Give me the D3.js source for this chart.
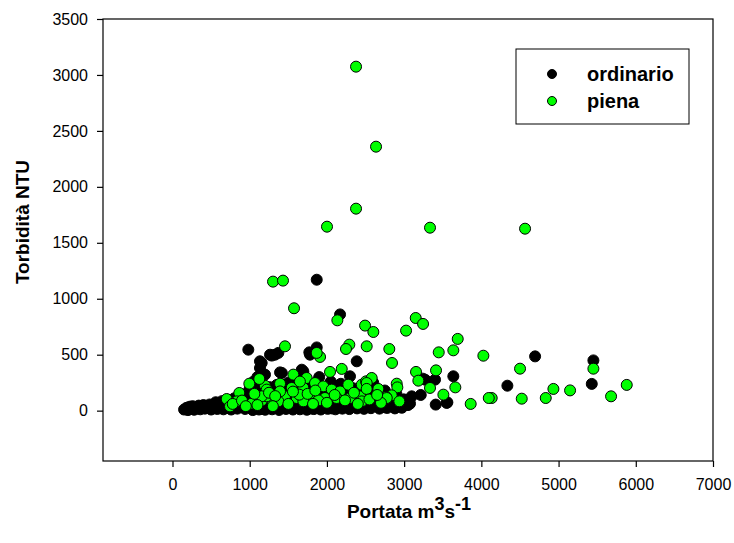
<!DOCTYPE html>
<html><head><meta charset="utf-8">
<script src="https://cdn.jsdelivr.net/npm/d3@7"></script>
<style>body{margin:0;background:#fff;} svg{display:block;}</style>
</head><body>
<script>
// ordinario (black)
const ordX = [150,180,200,220,240,260,280,300,320,340,360,380,400,420,440,460,480,500,520,540,560,580,600,620,640,660,680,700,720,740,760,780,800,820,840,860,880,900,920,940,960,980,1000,
1020,1050,1080,1100,1130,1160,1190,1220,1250,1280,1310,1340,1370,1400,1430,1460,1490,1520,1550,1580,1610,1640,1670,1700,1730,1760,1790,1820,1850,1880,1910,1940,1970,2000,
2030,2060,2100,2140,2180,2220,2260,2300,2340,2380,2420,2460,2500,2540,2580,2620,2660,2700,2750,2800,2850,2900,2950,3000,3050,
982,1133,1155,1263,1328,1371,1285,1868,2170,1868,1781,1772,2386,2299,1416,1393,1674,1695,1133,1198,3637,3400,3240,3271,3215,3098,2990,2796,3076,3409,3551,3560,4337,4696,5451,5430,
1500,1600,1750,1900,2050,2250,2450,2600,2750,2900,1050,1000,950,1100,
1040,1120,1200,1290,1380,1470,1560,1650,1740,1830,1920,2010,2110,2200,2290,2390,2480,2570,2680,2780,2880,2970,
560,640,720,800,880,960,1010,1090,1170,1260,1350,1440,1530,1620,1710];
const ordY = [10,25,5,35,15,40,8,30,20,45,12,35,50,18,40,25,55,10,38,22,60,15,45,30,55,12,40,25,65,35,10,50,28,70,18,45,60,30,80,15,50,35,90,
20,60,110,40,150,15,80,130,30,70,170,45,100,20,140,60,90,25,180,50,120,30,80,160,40,100,20,130,60,200,35,90,150,45,
110,20,170,60,240,30,120,80,200,40,140,70,30,110,60,160,40,90,30,60,120,40,70,100,50,
545,441,426,500,500,516,492,1170,860,565,500,521,441,307,337,342,366,351,381,322,307,277,286,277,140,128,98,63,63,54,69,74,223,485,449,239,
250,280,230,300,260,220,200,250,180,150,260,200,150,300,
5,10,8,12,6,15,10,12,8,14,10,16,12,18,14,20,16,22,18,24,20,26,
75,85,95,110,120,140,160,180,200,210,230,190,220,240,260];
// piena (green)
const pienaX = [2377,2636,2377,2001,3335,4566,1302,1431,1574,2135,2494,2601,3150,3245,3025,3694,2808,2843,3448,3637,4026,4501,5451,5883,5680,5149,4933,4834,4523,4134,4096,3862,3663,3508,3413,3154,3184,3335,2904,2912,2839,2766,2938,
1457,1911,1868,2290,2247,2515,2192,2040,1565,1738,1393,1198,1544,1695,1846,1953,2062,2170,2277,2451,2507,2429,2299,2127,1975,1781,1609,1457,1285,1155,1371,1695,1889,2234,2451,1220,1393,1642,
995,1124,1220,865,702,832,745,1026,1155,2580,2515,2515,2666,2775,
780,900,950,1060,1100,1250,1330,1500,1560,1750,1820,2000,2100,2350,2400,2550,2700,1650,1300,1850,2650];
const pienaY = [3074,2359,1805,1644,1635,1626,1153,1162,915,807,760,703,828,775,715,641,551,426,521,539,491,375,375,230,128,181,194,113,107,113,113,60,208,143,360,346,268,203,241,208,137,122,83,
575,480,516,590,551,575,373,346,322,292,241,223,203,203,247,217,188,172,232,232,262,128,113,113,113,98,113,128,98,89,83,83,92,92,83,128,172,143,
241,283,188,158,104,83,38,63,128,292,247,194,194,113,
60,90,40,150,50,160,130,60,170,150,60,70,140,160,60,100,70,260,40,180,140];

const xTicks = [0,1000,2000,3000,4000,5000,6000,7000];
const yTicks = [0,500,1000,1500,2000,2500,3000,3500];
const seriesNames = ["ordinario","piena"];
const seriesColors = ["#000000","#00ff00"];

const W = 734, H = 543;
const L = 103, R = 713, T = 19, B = 461;
const FONT = "Arial, 'Liberation Sans', sans-serif";
const svg = d3.select("body").append("svg").attr("width", W).attr("height", H)
  .style("font-family", FONT);

const x = d3.scaleLinear().domain([-900, 7000]).range([L, R]);
const y = d3.scaleLinear().domain([-450, 3500]).range([B, T]);

svg.append("rect").attr("x", L).attr("y", T).attr("width", R - L).attr("height", B - T)
  .attr("fill", "none").attr("stroke", "#000").attr("stroke-width", 1.2);

const xAxis = svg.append("g").attr("transform", `translate(0,${B})`)
  .call(d3.axisBottom(x).tickValues(xTicks).tickSize(6).tickPadding(12).tickFormat(d3.format("d")));
const yAxis = svg.append("g").attr("transform", `translate(${L},0)`)
  .call(d3.axisLeft(y).tickValues(yTicks).tickSize(6).tickPadding(9).tickFormat(d3.format("d")));
[xAxis, yAxis].forEach(g => {
  g.select(".domain").remove();
  g.selectAll("line").attr("stroke", "#000").attr("stroke-width", 1.2);
  g.selectAll("text").attr("font-size", 16).attr("fill", "#000").style("font-family", FONT);
});

const plot = svg.append("g");
const ord = ordX.map((v, i) => [v, ordY[i]]);
const pie = pienaX.map((v, i) => [v, pienaY[i]]);
plot.selectAll("circle.o").data(ord).enter().append("circle").attr("class", "o")
  .attr("cx", d => x(d[0])).attr("cy", d => y(d[1])).attr("r", 5.5)
  .attr("fill", seriesColors[0]).attr("stroke", "#000").attr("stroke-width", 1);
plot.selectAll("circle.p").data(pie).enter().append("circle").attr("class", "p")
  .attr("cx", d => x(d[0])).attr("cy", d => y(d[1])).attr("r", 5.5)
  .attr("fill", seriesColors[1]).attr("stroke", "#000").attr("stroke-width", 1);

// legend
const lg = svg.append("g");
lg.append("rect").attr("x", 516).attr("y", 49).attr("width", 173).attr("height", 75)
  .attr("fill", "#fff").attr("stroke", "#000").attr("stroke-width", 1);
seriesNames.forEach((n, i) => {
  const cy = 74 + i * 27;
  lg.append("circle").attr("cx", 552).attr("cy", cy).attr("r", 4.5)
    .attr("fill", seriesColors[i]).attr("stroke", "#000").attr("stroke-width", 1);
  lg.append("text").attr("x", 587).attr("y", cy + 7).attr("font-size", 20).attr("font-weight", "bold").text(n);
});

// axis titles
svg.append("text").attr("transform", "translate(29,222) rotate(-90)").attr("text-anchor", "middle")
  .attr("font-size", 19).attr("font-weight", "bold").text("Torbidità NTU");
const xt = svg.append("text").attr("x", 409).attr("y", 518).attr("text-anchor", "middle")
  .attr("font-size", 19).attr("font-weight", "bold");
xt.append("tspan").text("Portata m");
xt.append("tspan").attr("dy", -8).attr("font-size", 18).text("3");
xt.append("tspan").attr("dy", 8).text("s");
xt.append("tspan").attr("dy", -8).attr("font-size", 18).text("-1");
</script>
</body></html>
